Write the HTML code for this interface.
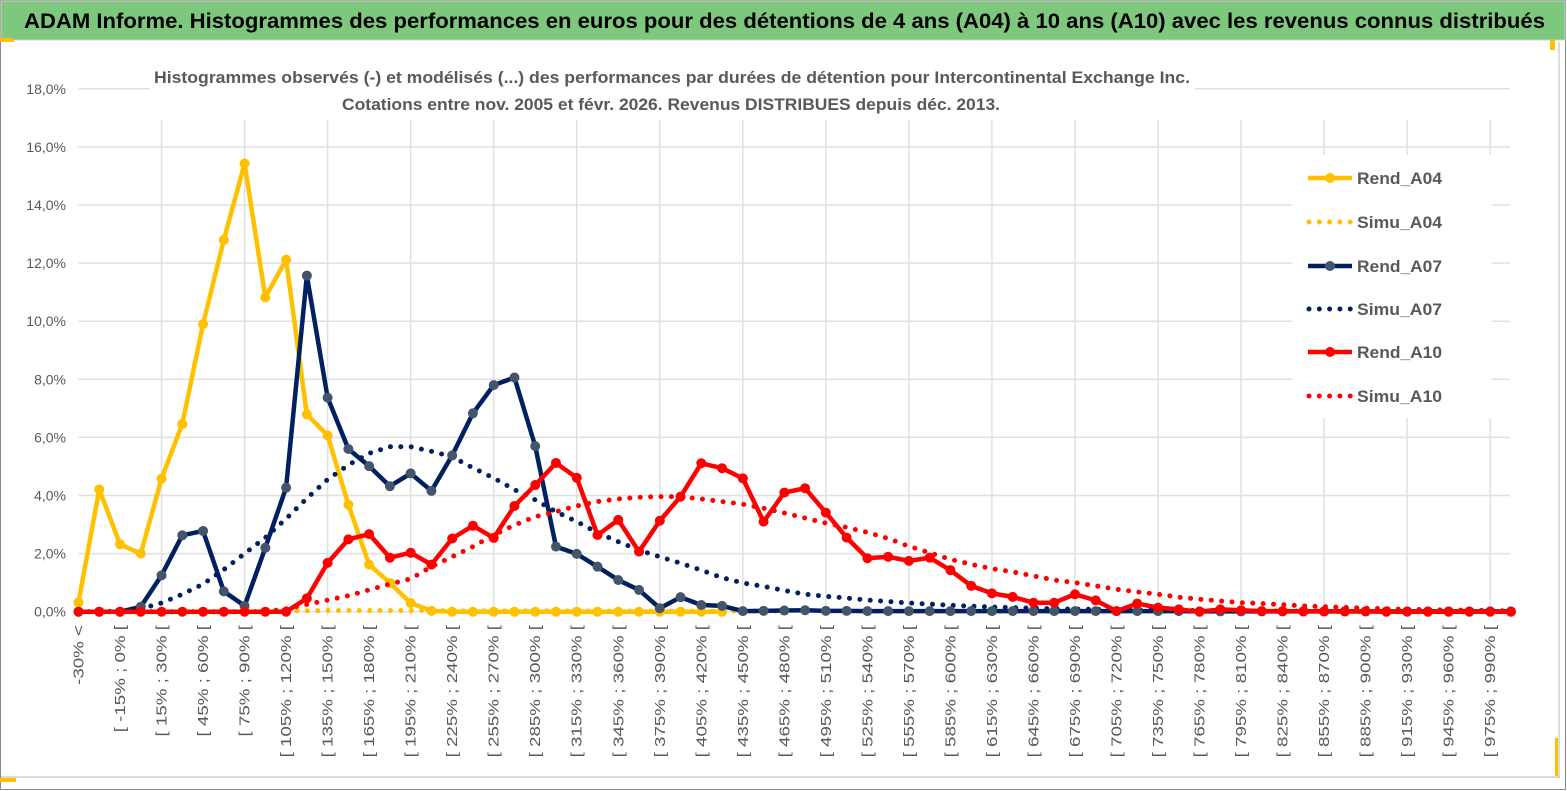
<!DOCTYPE html>
<html><head><meta charset="utf-8"><style>
html,body{margin:0;padding:0;background:#fff;}
svg{display:block;font-family:"Liberation Sans",sans-serif;}
</style></head><body>
<svg id="chart" width="1567" height="791" viewBox="0 0 1567 791" xmlns="http://www.w3.org/2000/svg">
  <rect x="0.5" y="0.5" width="1565" height="789" fill="#fff" stroke="#8a8a8a"/>
  <rect x="1" y="1" width="1564" height="39" fill="#7dc87d" stroke="#d0d0d0"/>
  <text x="24" y="28" font-size="21" font-weight="bold" fill="#000" textLength="1521" lengthAdjust="spacingAndGlyphs">ADAM Informe. Histogrammes des performances en euros pour des détentions de 4 ans (A04) à 10 ans (A10) avec les revenus connus distribués</text>
  <rect x="0" y="38" width="14" height="4" fill="#ffc000"/>
  <rect x="1550" y="40" width="5" height="10" fill="#ffc000"/>
  <rect x="1555" y="738" width="5" height="40" fill="#ffc000"/>
  <rect x="0" y="778" width="16" height="4" fill="#ffc000"/>
  <line x1="1" y1="777" x2="1558" y2="777" stroke="#dcdcdc" stroke-width="2"/>
  <line x1="1559" y1="42" x2="1559" y2="777" stroke="#dcdcdc" stroke-width="2"/>
  <g id="grid"></g>
  <g id="axes"></g>
  <g id="series"></g>
  <rect x="150" y="58" width="1045" height="60" fill="#fff"/>
  <text x="672" y="83" text-anchor="middle" font-size="17" font-weight="bold" fill="#595959" textLength="1036" lengthAdjust="spacingAndGlyphs">Histogrammes observés (-)  et modélisés (...) des performances par durées de détention pour Intercontinental Exchange Inc.</text>
  <text x="671" y="110" text-anchor="middle" font-size="17" font-weight="bold" fill="#595959" textLength="658" lengthAdjust="spacingAndGlyphs">Cotations entre nov. 2005 et févr. 2026. Revenus DISTRIBUES depuis déc. 2013.</text>
  <g id="legend"></g>
</svg>
<script>
const categories = (function(){ const c=["-30% <"]; for(let i=1;i<70;i++){ const lo=-30+15*(i-1); c.push("[ "+lo+"% ; "+(lo+15)+"% ["); } return c; })();
const rendA04 = [0.32,4.21,2.32,2.0,4.58,6.46,9.9,12.8,15.43,10.82,12.12,6.79,6.07,3.68,1.62,0.99,0.3,0.03,0,0,0,0,0,0,0,0,0,0,0,0,0,0];
const simuA04 = [0,0,0,0,0,0,0,0,0,0,0.02,0.03,0.04,0.04,0.04,0.04,0.04,0.04,0.03,0.03,0.03,0.03,0.03,0.03,0.02,0.02,0.02,0.02,0.02,0.02,0.02,0.02,0.02,0.02,0.02];
const rendA07 = [0,0,0,0.17,1.25,2.63,2.78,0.7,0.2,2.2,4.27,11.57,7.37,5.6,5.01,4.32,4.76,4.16,5.38,6.83,7.8,8.06,5.7,2.24,1.99,1.55,1.09,0.75,0.12,0.5,0.23,0.2,0.02,0.03,0.04,0.05,0.03,0.03,0.02,0.02,0.02,0.02,0.02,0.02,0.02,0.02,0.02,0.02,0.02,0.02,0.02,0.02,0.02,0.02,0.01,0.01,0.01,0.01,0.01,0.01,0.01,0.01,0.01,0.01,0.01,0.01,0.01,0.01,0.01,0.01];
const simuA07 = [0,0,0.02,0.1,0.3,0.6,0.95,1.45,2.0,2.55,3.2,3.9,4.55,5.05,5.45,5.68,5.68,5.52,5.33,4.95,4.6,4.2,3.85,3.44,3.1,2.72,2.41,2.12,1.89,1.67,1.43,1.17,0.99,0.87,0.73,0.6,0.53,0.47,0.4,0.35,0.3,0.26,0.22,0.19,0.16,0.14,0.12,0.1,0.09,0.08,0.07,0.06,0.05,0.04,0.04,0.03,0.03,0.02,0.02,0.02,0.02,0.01,0.01,0.01,0.01,0.01,0.01,0.01,0.01,0.01];
const rendA10 = [0,0,0,0,0,0,0,0,0,0,0,0.46,1.68,2.49,2.67,1.86,2.03,1.62,2.52,2.96,2.54,3.64,4.36,5.12,4.61,2.64,3.16,2.07,3.13,3.96,5.11,4.94,4.59,3.1,4.1,4.25,3.41,2.55,1.84,1.89,1.75,1.86,1.43,0.89,0.63,0.51,0.31,0.31,0.6,0.39,0.02,0.28,0.14,0.08,0,0.08,0.05,0.02,0.02,0.01,0.01,0.01,0.01,0,0,0,0,0,0,0];
const simuA10 = [0,0,0,0,0,0,0,0,0,0,0.1,0.25,0.4,0.55,0.75,0.95,1.13,1.55,1.89,2.24,2.64,2.98,3.27,3.44,3.64,3.79,3.88,3.94,3.96,3.96,3.88,3.79,3.7,3.56,3.4,3.22,3.05,2.9,2.73,2.52,2.25,2.03,1.8,1.63,1.48,1.37,1.23,1.09,1.0,0.89,0.77,0.68,0.6,0.5,0.43,0.37,0.31,0.28,0.24,0.2,0.17,0.15,0.12,0.1,0.08,0.07,0.06,0.05,0.04,0.03];
const yTicks = [0,2,4,6,8,10,12,14,16,18];
const legendLabels = ["Rend_A04","Simu_A04","Rend_A07","Simu_A07","Rend_A10","Simu_A10"];

const NS="http://www.w3.org/2000/svg";
const X0=78.5, XSTEP=20.76, Y0=611.7, YPER=29.05;
function xScale(i){ return X0+XSTEP*i; }
function yScale(v){ return Y0-v*YPER; }
function mk(tag, attrs, parent){ const e=document.createElementNS(NS,tag); for(const k in attrs) e.setAttribute(k,attrs[k]); parent.appendChild(e); return e; }

const grid=document.getElementById('grid');
const axes=document.getElementById('axes');
const series=document.getElementById('series');
const legend=document.getElementById('legend');

yTicks.forEach(function(t){
  const y=yScale(t);
  const ln=mk('line',{x1:X0,x2:1510,y1:y,y2:y,stroke:'#e0e0e0','stroke-width':1.5},grid);
  
  
  const lb=mk('text',{x:66,y:y+5,'text-anchor':'end','font-size':14,fill:'#595959'},axes);
  lb.textContent=t.toFixed(1).replace('.',',')+'%';
  
  
});
for(let i=4;i<categories.length;i+=4){
  const x=xScale(i);
  const ln=mk('line',{x1:x,x2:x,y1:120,y2:Y0+4,stroke:'#e0e0e0','stroke-width':1.5},grid);
  
  
}
for(let i=0;i<categories.length;i+=2){
  const x=xScale(i)+5;
  const lb=mk('text',{x:x,y:625,'text-anchor':'end','font-size':15,fill:'#595959',transform:'rotate(-90 '+x+' 625)'},axes);
  lb.textContent=categories[i];
  
  
  const w=lb.getComputedTextLength();
  if(w>0){ lb.setAttribute('textLength', (w*1.25).toFixed(1)); lb.setAttribute('lengthAdjust','spacingAndGlyphs'); }
}

function drawDotted(vals,color,name){
  const pts=vals.map(function(v,i){return xScale(i)+','+yScale(v);}).join(' ');
  const p=mk('polyline',{points:pts,fill:'none',stroke:color,'stroke-width':5,'stroke-dasharray':'0 10.4','stroke-linecap':'round'},series);
  
  
}
function drawLine(vals,color,mcolor,name){
  const g=mk('g',{},series);
  
  
  const pts=vals.map(function(v,i){return xScale(i)+','+yScale(v);}).join(' ');
  mk('polyline',{points:pts,fill:'none',stroke:color,'stroke-width':4.5,'stroke-linejoin':'round'},g);
  vals.forEach(function(v,i){
    const c=mk('circle',{cx:xScale(i),cy:yScale(v),r:5,fill:mcolor},g);
    
    
  });
}
drawDotted(simuA04,'#ffc000','simu-a04-line');
drawLine(rendA04,'#ffc000','#ffc000','rend-a04-line');
drawDotted(simuA07,'#002060','simu-a07-line');
drawLine(rendA07,'#002060','#44546a','rend-a07-line');
drawDotted(simuA10,'#ff0000','simu-a10-line');
drawLine(rendA10,'#ff0000','#ff0000','rend-a10-line');

// legend
const lbg=mk('rect',{x:1292,y:155,width:200,height:263,fill:'#fff'},legend);


const lcolors=['#ffc000','#ffc000','#002060','#002060','#ff0000','#ff0000'];
const lmark=['#ffc000','#ffc000','#44546a','#44546a','#ff0000','#ff0000'];
const lys=[178,222,266,309,352,396];
legendLabels.forEach(function(lab,k){
  const g=mk('g',{},legend);
  
  
  const y=lys[k];
  if(k%2===0){
    mk('line',{x1:1308,x2:1352,y1:y,y2:y,stroke:lcolors[k],'stroke-width':4.5},g);
    mk('circle',{cx:1330,cy:y,r:5,fill:lmark[k]},g);
  } else {
    mk('line',{x1:1309,x2:1352,y1:y,y2:y,stroke:lcolors[k],'stroke-width':5,'stroke-dasharray':'0 10.3','stroke-linecap':'round'},g);
  }
  const t=mk('text',{x:1357,y:y+6,'font-size':17,'font-weight':'bold',fill:'#595959',textLength:85,lengthAdjust:'spacingAndGlyphs'},g);
  t.textContent=lab;
});
</script>
</body></html>
